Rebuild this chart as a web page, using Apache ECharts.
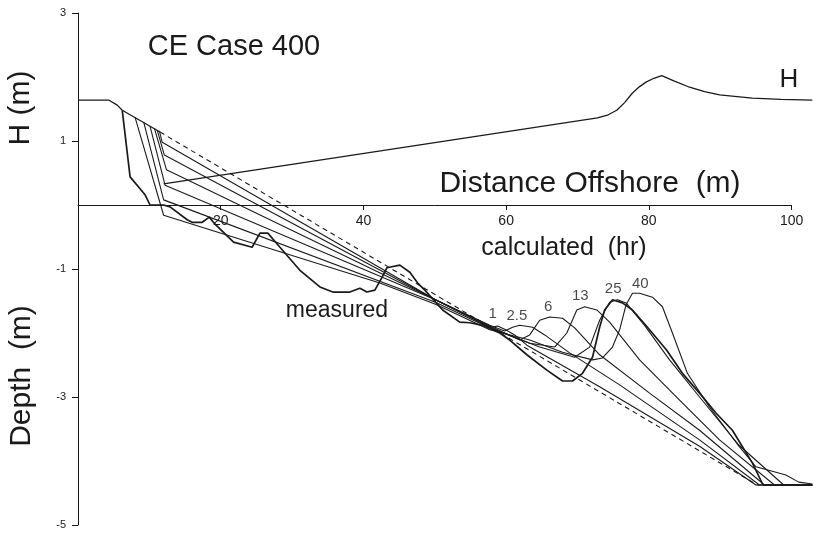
<!DOCTYPE html>
<html>
<head>
<meta charset="utf-8">
<script src="https://cdn.jsdelivr.net/npm/echarts@6/dist/echarts.min.js"></script>
<style>
  html, body { margin: 0; padding: 0; background: #ffffff; }
  #chart { width: 813px; height: 537px; }
</style>
</head>
<body>
<div id="chart"></div>
<script>
// Axis ticks
const xTicks = [20, 40, 60, 80, 100];
const yTicks = [-5, -3, -1, 1, 3];

// Dry beach shared by every profile (m offshore, m elevation)
const beach = [[0, 1.64], [4.3, 1.64], [5.5, 1.56], [6.2, 1.48], [11.5, 1.14]];

// Initial (pre-storm) profile
const initialProfile = [[11.5, 1.14], [95.2, -4.375], [102.9, -4.375]];

// Measured profile after the storm
const measured = [
  [6.2, 1.48], [7.3, 0.44], [9.4, 0.16], [10.1, 0.0], [12.0, 0.0], [12.9, -0.03],
  [15.3, -0.23], [16.0, -0.27], [17.4, -0.27], [18.4, -0.19], [19.2, -0.30],
  [21.8, -0.58], [24.4, -0.66], [25.5, -0.44], [26.6, -0.44], [28.3, -0.66],
  [31.1, -1.02], [33.9, -1.28], [35.7, -1.36], [38.1, -1.36], [39.5, -1.30],
  [40.5, -1.36], [41.6, -1.33], [42.6, -1.13], [43.3, -0.98], [45.1, -0.94],
  [46.5, -1.05], [47.6, -1.22], [48.6, -1.33], [51.1, -1.64], [53.5, -1.83],
  [54.9, -1.84], [56.7, -1.88], [59.1, -2.0], [60.5, -2.11], [62.9, -2.34],
  [65.7, -2.58], [67.9, -2.75], [69.3, -2.75], [70.7, -2.63], [72.1, -2.38],
  [73.1, -1.91], [73.8, -1.64], [74.9, -1.48], [76.3, -1.53], [77.7, -1.64],
  [80.1, -1.95], [82.5, -2.27], [84.7, -2.63], [87.1, -2.94], [89.4, -3.25],
  [91.7, -3.52], [94.5, -4.03], [96.0, -4.375], [102.9, -4.375]
];

// Calculated profiles, by elapsed time (hr)
const calc1 = [
  [11.4, 1.16], [11.8, 0.98], [50.1, -1.48], [56.3, -1.83], [58.0, -1.91],
  [58.8, -1.89], [59.8, -1.94], [61.2, -2.03], [62.9, -2.19], [73.1, -2.84],
  [87.1, -3.77], [95.0, -4.375], [102.9, -4.375]
];
const calc2p5 = [
  [11.1, 1.17], [12.1, 0.78], [50.1, -1.48], [57.7, -1.88], [59.8, -1.97],
  [60.9, -1.91], [61.9, -1.88], [63.7, -1.91], [65.4, -2.03], [68.9, -2.31],
  [75.9, -2.81], [87.1, -3.67], [95.5, -4.375], [102.9, -4.375]
];
const calc6 = [
  [10.7, 1.20], [12.4, 0.55], [50.1, -1.48], [57.7, -1.89], [61.9, -2.11],
  [63.3, -2.03], [64.7, -1.80], [66.1, -1.75], [67.9, -1.77], [69.6, -1.92],
  [73.1, -2.34], [80.1, -2.94], [87.1, -3.52], [96.2, -4.375], [102.9, -4.375]
];
const calc13 = [
  [10.1, 1.23], [12.2, 0.31], [50.1, -1.48], [57.7, -1.91], [63.3, -2.16],
  [66.8, -2.22], [68.5, -2.0], [69.9, -1.64], [71.0, -1.59], [72.7, -1.64],
  [74.5, -1.83], [78.7, -2.42], [84.3, -3.05], [89.9, -3.67], [97.6, -4.375],
  [102.9, -4.375]
];
const calc25 = [
  [9.2, 1.30], [12.0, 0.08], [50.1, -1.52], [57.7, -1.92], [64.7, -2.22],
  [69.6, -2.38], [71.7, -2.22], [73.1, -1.80], [74.5, -1.52], [75.6, -1.48],
  [76.8, -1.53], [79.4, -1.88], [82.9, -2.42], [87.1, -3.0], [92.6, -3.75],
  [98.9, -4.375], [102.9, -4.375]
];
const calc40 = [
  [8.0, 1.37], [12.0, -0.16], [42.3, -1.22], [50.1, -1.55], [57.7, -1.95],
  [63.3, -2.11], [67.9, -2.30], [72.1, -2.42], [73.5, -2.39], [74.9, -2.22],
  [75.9, -1.95], [76.8, -1.56], [77.7, -1.38], [78.7, -1.38], [80.5, -1.44],
  [81.9, -1.59], [83.3, -2.0], [85.4, -2.63], [88.5, -3.16], [92.7, -3.78],
  [95.0, -4.09], [97.3, -4.16], [99.2, -4.22], [101.0, -4.33], [102.9, -4.36]
];

// Wave height across the profile (m)
const waveHeight = [
  [12.0, 0.33], [72.8, 1.36], [74.3, 1.41], [75.5, 1.48], [76.6, 1.60],
  [77.7, 1.75], [78.7, 1.85], [79.6, 1.92], [80.7, 1.98], [81.8, 2.02],
  [83.5, 1.94], [85.7, 1.84], [87.8, 1.77], [89.9, 1.72], [94.5, 1.67],
  [98.5, 1.65], [102.9, 1.64]
];

// Elapsed-time tags placed above each calculated bar
const hourTags = [
  { name: '1',   value: [58.1, -1.70] },
  { name: '2.5', value: [61.5, -1.73] },
  { name: '6',   value: [65.9, -1.59] },
  { name: '13',  value: [70.4, -1.42] },
  { name: '25',  value: [75.0, -1.31] },
  { name: '40',  value: [78.8, -1.23] }
];

const INK = '#1a1a1a';
const FONT = '"Liberation Sans", Arial, sans-serif';

// Horizontal scale: 7.136 px per metre in both grids
const X_MAX_DATA = 103;   // profiles run slightly past the last tick
const X_MAX_AXIS = 100;   // distance axis ends at 100 m

function profile(data, width, dashed) {
  return {
    type: 'line',
    xAxisIndex: 0,
    yAxisIndex: 0,
    data: data,
    symbol: 'none',
    silent: true,
    lineStyle: { color: INK, width: width, type: dashed ? [5, 4] : 'solid' },
    z: 3
  };
}

const chart = echarts.init(document.getElementById('chart'), null, { renderer: 'canvas' });

chart.setOption({
  animation: false,
  backgroundColor: '#ffffff',
  grid: [
    // plotting area for all profiles
    { left: 78, width: 735, top: 13, height: 512, outerBoundsMode: 'none', containLabel: false },
    // distance axis drawn along the still-water line (upper 3 m of the plot)
    { left: 78, width: 735 * X_MAX_AXIS / X_MAX_DATA, top: 13, height: 192, outerBoundsMode: 'none', containLabel: false }
  ],
  xAxis: [
    {
      gridIndex: 0, type: 'value', min: 0, max: X_MAX_DATA, show: false
    },
    {
      gridIndex: 1,
      type: 'value',
      min: 0,
      max: X_MAX_AXIS,
      position: 'bottom',
      axisLine: { show: true, onZero: false, lineStyle: { color: INK, width: 1 } },
      axisTick: { customValues: xTicks, length: 5, lineStyle: { color: INK } },
      axisLabel: {
        customValues: xTicks, margin: 9, color: INK,
        fontFamily: FONT, fontSize: 14
      },
      splitLine: { show: false }
    }
  ],
  yAxis: [
    {
      gridIndex: 0,
      type: 'value',
      min: -5,
      max: 3,
      axisLine: { show: true, onZero: false, lineStyle: { color: INK, width: 1 } },
      axisTick: { customValues: yTicks, length: 6, lineStyle: { color: INK } },
      axisLabel: {
        customValues: yTicks, margin: 12, color: INK,
        fontFamily: FONT, fontSize: 11
      },
      splitLine: { show: false }
    },
    {
      gridIndex: 1, type: 'value', min: 0, max: 3, show: false
    }
  ],
  series: [
    profile(beach, 1.3, false),
    profile(initialProfile, 1.1, true),
    profile(calc1, 1.1, false),
    profile(calc2p5, 1.1, false),
    profile(calc6, 1.1, false),
    profile(calc13, 1.1, false),
    profile(calc25, 1.1, false),
    profile(calc40, 1.1, false),
    profile(measured, 1.7, false),
    profile(waveHeight, 1.3, false),
    {
      type: 'scatter',
      xAxisIndex: 0,
      yAxisIndex: 0,
      data: hourTags,
      symbolSize: 0,
      silent: true,
      label: {
        show: true,
        position: 'inside',
        formatter: p => p.name,
        color: INK,
        fontFamily: FONT,
        fontSize: 15
      }
    }
  ],
  graphic: [
    { type: 'text', x: 234, y: 47, style: { text: 'CE Case 400', font: '29px ' + FONT, fill: INK, align: 'center', verticalAlign: 'middle' } },
    { type: 'text', x: 21, y: 108, rotation: Math.PI / 2, style: { text: 'H (m)', font: '30px ' + FONT, fill: INK, align: 'center', verticalAlign: 'middle' } },
    { type: 'text', x: 22, y: 376, rotation: Math.PI / 2, style: { text: 'Depth  (m)', font: '30px ' + FONT, fill: INK, align: 'center', verticalAlign: 'middle' } },
    { type: 'text', x: 789, y: 80, style: { text: 'H', font: '26px ' + FONT, fill: INK, align: 'center', verticalAlign: 'middle' } },
    { type: 'text', x: 590, y: 184, style: { text: 'Distance Offshore  (m)', font: '30px ' + FONT, fill: INK, align: 'center', verticalAlign: 'middle' } },
    { type: 'text', x: 564, y: 248, style: { text: 'calculated  (hr)', font: '25px ' + FONT, fill: INK, align: 'center', verticalAlign: 'middle' } },
    { type: 'text', x: 337, y: 311, style: { text: 'measured', font: '23px ' + FONT, fill: INK, align: 'center', verticalAlign: 'middle' } }
  ]
});
</script>
</body>
</html>
